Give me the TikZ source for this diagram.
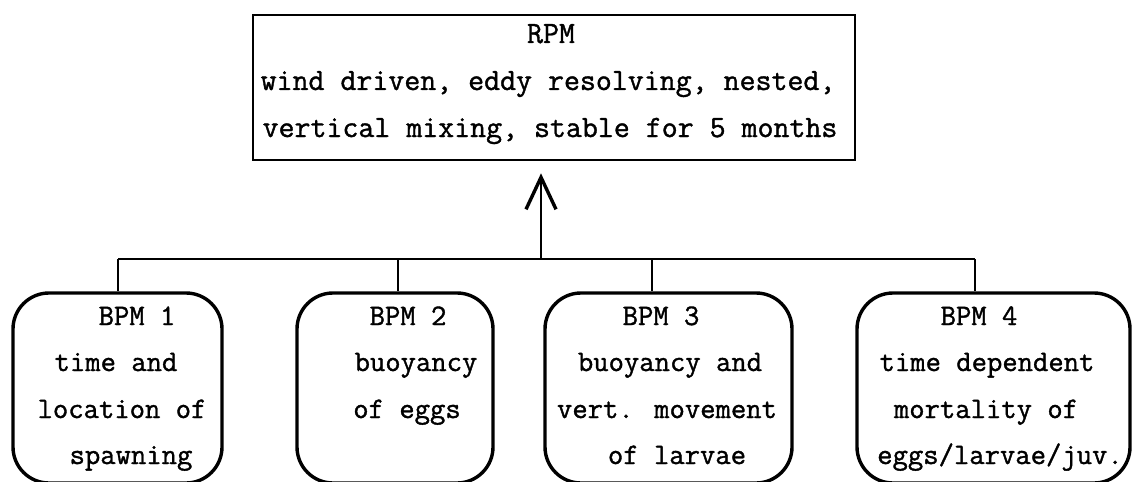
\documentclass[tikz,border=0pt]{standalone}
\usepackage{fontspec}
\newfontfamily\typewr{Latin Modern Mono}[FakeBold=1.2]
\usetikzlibrary{arrows.meta}
\tikzset{
  rpmbox/.style={draw, line width=1.3pt, rectangle, inner sep=0pt},
  bpmbox/.style={draw, line width=1.7pt, rectangle, rounded corners=18pt, inner sep=0pt},
  rpmtext/.style={font=\fontsize{15.5}{18}\selectfont\typewr, anchor=base, inner sep=0pt},
  bpmtext/.style={font=\fontsize{14.9}{18}\selectfont\typewr, anchor=base, inner sep=0pt},
  wire/.style={line width=1.1pt},
  uparrow/.style={line width=1.1pt, -{Straight Barb[length=16pt,width=15pt,line width=1.7pt]}, shorten >=6pt},
}
\begin{document}
\begin{tikzpicture}[x=0.5pt,y=-0.5pt]
\useasboundingbox (0,0) rectangle (1133,481);
\clip (0,0) rectangle (1133,481);
% RPM box
\node[rpmbox, minimum width=301pt, minimum height=72.5pt] (rpm) at (554,87.5) {};
\node[rpmtext] (rpm1) at (551,43) {RPM};
\node[rpmtext] (rpm2) at (548,90) {wind driven, eddy resolving, nested,};
\node[rpmtext] (rpm3) at (550,137) {vertical mixing, stable for 5 months};
% BPM boxes
\node[bpmbox, minimum width=104.5pt, minimum height=95pt] (b1) at (117.5,388) {};
\node[bpmbox, minimum width=98pt, minimum height=95pt] (b2) at (395,388) {};
\node[bpmbox, minimum width=123.5pt, minimum height=95pt] (b3) at (668.5,388) {};
\node[bpmbox, minimum width=136.5pt, minimum height=95pt] (b4) at (993.5,388) {};
% BPM 1 text
\node[bpmtext] (t11) at (137,325) {BPM 1};
\node[bpmtext] (t12) at (116,371) {time and};
\node[bpmtext] (t13) at (122,418) {location of};
\node[bpmtext] (t14) at (131,464) {spawning};
% BPM 2 text
\node[bpmtext] (t21) at (408,325) {BPM 2};
\node[bpmtext] (t22) at (416,371) {buoyancy};
\node[bpmtext] (t23) at (407,418) {of eggs};
% BPM 3 text
\node[bpmtext] (t31) at (661,325) {BPM 3};
\node[bpmtext] (t32) at (670,371) {buoyancy and};
\node[bpmtext] (t33) at (667,418) {vert. movement};
\node[bpmtext] (t34) at (677,464) {of larvae};
% BPM 4 text
\node[bpmtext] (t41) at (979,325) {BPM 4};
\node[bpmtext] (t42) at (987,371) {time dependent};
\node[bpmtext] (t43) at (986,418) {mortality of};
\node[bpmtext] (t44) at (1000,464) {eggs/larvae/juv.};
% connectors
\coordinate (j1) at (118,259);
\coordinate (j2) at (398,259);
\coordinate (j3) at (652,259);
\coordinate (j4) at (975,259);
\coordinate (hub) at (541,259);
\draw[wire] (j1) -- (j4);
\draw[wire] (j1) -- (j1 |- b1.north);
\draw[wire] (j2) -- (j2 |- b2.north);
\draw[wire] (j3) -- (j3 |- b3.north);
\draw[wire] (j4) -- (j4 |- b4.north);
\draw[uparrow] (hub) -- (hub |- rpm.south);
\end{tikzpicture}
\end{document}
